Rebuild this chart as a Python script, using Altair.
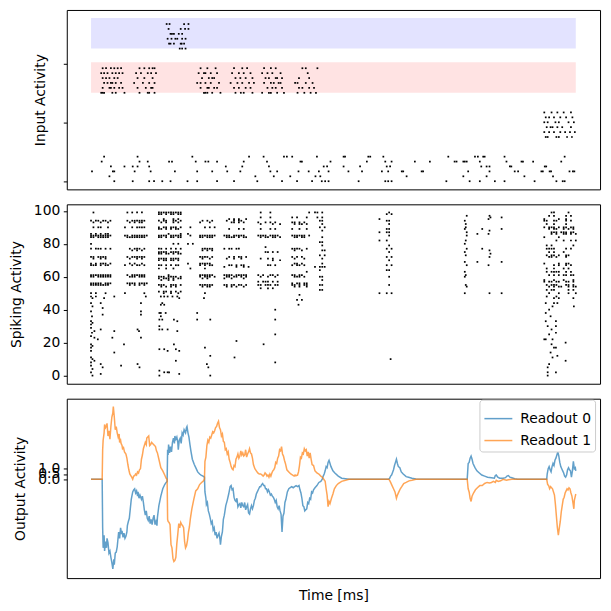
import altair as alt
import pandas as pd

T_END = 1000   # trial length (ms)
BIN = 5        # ms per character in the raster patterns

# ---------------- input spikes: row -> spike times (ms) ----------------
noise_rows = {
    5: [27, 96, 209, 326, 356, 398, 404, 415, 466, 521, 524, 572, 576, 603, 737, 792, 798, 809, 812, 853, 977],
    4: [22, 100, 117, 161, 167, 216, 236, 242, 260, 315, 363, 432, 435, 494, 569, 607, 620, 668, 699, 750,
        754, 768, 771, 775, 802, 857, 888, 891, 912, 970],
    3: [41, 69, 86, 96, 120, 278, 312, 367, 480, 487, 521, 555, 610, 617, 805, 816, 822, 864, 867, 936, 939],
    2: [2, 45, 48, 90, 123, 173, 219, 250, 281, 308, 370, 384, 428, 449, 470, 490, 531, 559, 600, 613, 641,
        644, 682, 685, 778, 822, 874, 881, 929, 932, 946, 949, 987, 994, 997],
    1: [38, 339, 377, 411, 463, 473, 651, 768, 816, 894, 953],
    0: [48, 86, 120, 130, 147, 164, 199, 219, 260, 295, 343, 394, 425, 456, 476, 483, 490, 552, 607, 613,
        620, 733, 781, 802, 833, 853, 915, 960, 973, 977],
}
probe_rows = {
    14: [935, 950, 962, 975, 990],
    13: [938, 945, 955, 968, 980, 993],
    12: [935, 942, 958, 965, 985, 996],
    11: [940, 948, 952, 962, 972, 990],
    10: [935, 945, 955, 968, 978, 988, 998],
    9: [938, 942, 960, 965, 982, 992],
}
cue_red_rows = {
    23: [24, 31, 41, 48, 55, 62, 100, 110, 120, 127, 131, 226, 240, 257, 295, 312, 322, 357, 371, 381, 436, 443, 467],
    22: [21, 27, 34, 44, 51, 58, 65, 93, 103, 117, 124, 134, 222, 233, 236, 247, 260, 291, 305, 315, 329,
         353, 364, 374, 391, 447],
    21: [24, 31, 38, 48, 55, 96, 110, 127, 229, 243, 250, 254, 298, 308, 319, 333, 360, 367, 381, 384, 394, 429, 450],
    20: [27, 34, 41, 44, 51, 62, 89, 107, 120, 131, 219, 226, 236, 247, 264, 288, 302, 312, 326, 336,
         357, 371, 377, 387, 391, 421, 426, 443, 457],
    19: [24, 38, 41, 48, 58, 65, 96, 113, 124, 127, 226, 240, 243, 254, 260, 295, 305, 319, 329,
         364, 374, 381, 394, 429, 436, 450, 460],
    18: [21, 24, 27, 44, 51, 69, 100, 117, 120, 131, 233, 236, 240, 250, 267, 298, 309, 315, 333,
         353, 367, 371, 384, 398, 426, 440, 453, 464],
}
cue_blue_rows = {
    32: [156, 162, 192, 201],
    31: [160, 185, 194, 201],
    30: [164, 167, 171, 181, 188],
    29: [158, 166, 174, 178, 188, 195],
    28: [161, 164, 171, 185, 187, 192],
    27: [183, 188, 195],
}
# shaded cue channels: (colour, lower row, upper row)
cue_bands = [("red", 18.0, 24.2), ("blue", 27.0, 33.2)]

# ---------------- recurrent spikes ----------------
# each burst: start time (ms), lines "neuron pattern" with one char per BIN ms
hidden_bursts = [
    (0, ["99 .x.......", "94 x.xx.xx.x", "93 .x..x..x.", "90 .x.xx..x.", "86 x.x.x.xx.",
         "85 xxxxxxxxx", "84 xx.xxxxx.", "80 x........", "77 x.xxx.x.x", "72 xx.xxxx..",
         "71 .x..x.x..", "68 x.x.xxx.x", "67 xxx.x.xx.", "61 xxxxxxxxx", "60 xx.xxxxxx",
         "56 xxxxx.xxx", "55 xxxxxxxx.", "50 x.x...x.."]),
    (70, ["99 .x.x.x.x..", "94 .x.xxxxxx.", "93 ..x.x.xx..", "90 x..x.xxxx.", "85 xx.xxxxxxx",
          "84 .xxxxxxxx.", "77 ..x.xxx.x.", "76 ...x.x.x..", "72 .x.xxxxxx.", "71 ..x..x.x..",
          "68 ..x.x..x..", "67 x..x.xx.x.", "61 .x.xxxxxx.", "60 ..xxx.xxx.", "56 .xxxx.xxxx",
          "55 ..x.x.x.x.", "50 x.......x."]),
    (140, ["99 xxxxxxxxxx", "98 xx.x.xx.xx", "95 ..x...x.x.", "94 x.xx..xx.x", "93 .x.x..x.x.",
           "90 x.xx.xxx.x", "89 xx.x.x.xx.", "86 ....x....x", "85 xxxx.xxxxx", "84 xx.x.xx.xx",
           "80 ......x.x.", "77 xx.x.x.x.x", "75 xxxx.xxxx.", "74 xx.xx.x.xx", "71 xxxx.xxxx.",
           "70 x.xx.xx.x.", "67 xx.x.x.xx.", "65 x..x..x...", "61 ....x.....", "60 xxx.xxxx.x",
           "59 x.xxx.x.xx", "58 .x..x.x...", "55 xxx..xxx.x", "54 .x.x.x.x..", "51 x.xx.x.x.x",
           "50 ..x..x..x."]),
    (200, ["94 ......x.x.x.", "93 .....x...x..", "90 .x.....x.x.x", "86 x...........", "85 .x...xxxxxxx",
           "84 .....xx.xxx.", "80 x.x.........", "77 ......xxxxx.", "76 ......x.x.x.", "72 .....xxxx.x.",
           "71 ......x..x..", "68 x....xxxxx..", "67 .....x.x.xx.", "65 .x.....x....", "61 .....xxxxxx.",
           "60 .....x.xxx.x", "59 ......x.x...", "55 .....xxxxxx.", "54 ......x.xx..", "50 .......x...."]),
    (275, ["95 ..x.x.x..x.", "94 .x..x.xx...", "93 ...xx.x.x..", "89 ..x...x.x..", "85 xxx.xxxxx..",
           "84 .xxxx.x.xx.", "77 x.xx.xx....", "72 ..x.x.xx.x.", "71 .x..x..x...", "67 ..xx.x.xx..",
           "66 x....x..x.x", "61 xxxx.xxxxx.", "60 .xx.xx.x.x.", "59 x..x....x..", "55 xx.xx.xx.x.",
           "54 .x.x.x..x.."]),
    (345, ["99 .x...x....", "96 .x...x....", "93 x..x.x.x..", "92 .x....x..x", "89 .x...x.x..",
           "85 xxxx.xxxx.", "84 .x.xx.xx.x", "78 ...x......", "75 ...xx.x.x.", "71 .x..x.x...",
           "70 ......x..x", "67 ....xx.x..", "61 x.x..xx.x.", "60 .x..x..x..", "57 x.xxx.x.x.",
           "55 xx.xxx.xx.", "53 .x..x.x..."]),
    (415, ["99 .......x", "96 x.x...x.", "93 xx.x.x..", "92 .x.xx.x.", "89 x..x..x.", "85 xxxxxx.x",
           "84 .xx.xx..", "77 xxxx..x.", "76 .x..x...", "72 x.x.x...", "71 .x...x..", "68 .xx.x...",
           "67 x.xx.x..", "63 ......x.", "61 xx.xx...", "60 .xxx.x..", "56 x.xx.xx.", "55 xx.x.xx.",
           "54 .x.x..x.", "49 ...x....", "46 ....x..."]),
    (462, ["99 xx.x.", "96 .x.x.", "94 ..xx.", "92 ...x.", "90 ..x.x", "88 ...x.", "84 ...x.",
           "81 ..xx.", "79 ...x.", "76 ...xx", "73 ..x.x", "71 ...x.", "68 ...x.", "66 x.xxx",
           "64 ..x..", "60 ..xx.", "58 ...x.", "55 ..xx.", "52 ..xx."]),
    (595, ["99 ....x.", "98 ...x.x", "95 x.....", "94 ...xx.", "92 ....x.", "89 ...xx.", "87 x..xx.",
           "85 ....x.", "82 x..x..", "79 ....x.", "77 ...x.x", "75 ....x.", "72 ...x.x", "70 ....x.",
           "67 ...x.x", "64 ...xx.", "60 ....x.", "55 ....x.", "50 x..x.x"]),
    (935, ["99 ...xx.....x...", "97 ..x.x....x.x..", "95 x.....x..x....", "94 xx..xx...x.x..",
           "92 .x..x....x....", "90 x.xxx.x.xx.xx.", "89 ..x.xx..x.x.x.", "87 ...xxx.xxx.xx.",
           "86 ...x.x..xx.x.x", "84 x.....x.......", "82 .....x..x..x.x", "79 .x.x........x.",
           "77 .xxxx....x.x..", "75 ..x.x...x.....", "73 .x.xx.x..xx...", "72 ..xx.x...x....",
           "68 x.....x..xx...", "67 ....x.x..x.x..", "65 .x..x...x.x...", "63 .x.xxxx..x.x..",
           "61 ..x.x.x.xx.xx.", "58 x...x...x...x.", "57 x.xx.xx..xx.x.", "55 .x.xxx...xx.x.",
           "54 ..x.x.xx..x.xx", "52 .x.xx.....x.x.", "50 ..x...x...x..x", "48 .x...x........",
           "47 ....x.x.....x."]),
]
# isolated spikes: (time ms, neuron)
hidden_scattered = [
    (0, 48), (3, 47), (10, 48), (27, 47), (48, 48), (0, 44), (3, 42), (20, 44), (24, 41), (0, 39),
    (24, 37), (2, 36), (0, 33), (0, 31), (3, 32), (0, 29), (7, 27), (20, 28), (48, 27), (2, 26),
    (0, 24), (7, 23), (14, 22), (44, 23), (0, 19), (0, 17), (3, 18), (0, 15), (48, 14), (0, 11),
    (3, 10), (7, 9), (0, 8), (0, 6), (20, 7), (24, 5), (3, 4), (0, 2), (20, 1), (3, 0),
    (113, 48), (103, 44), (103, 39), (103, 37), (96, 28), (99, 27), (103, 23), (68, 19), (62, 6),
    (96, 7), (100, 5),
    (144, 48), (151, 48), (158, 48), (168, 48), (178, 48), (182, 47), (144, 43), (151, 43), (147, 44),
    (141, 38), (144, 38), (154, 38), (144, 36), (141, 34), (147, 34), (171, 34), (178, 33), (141, 28),
    (147, 28), (158, 28), (178, 27), (141, 30), (171, 19), (141, 16), (151, 16), (158, 15), (175, 16),
    (182, 15), (175, 9), (141, 3), (151, 2), (158, 2), (161, 2), (182, 1), (141, 0),
    (233, 47), (219, 38), (219, 34), (246, 34), (235, 17), (246, 12), (239, 7), (242, 5), (246, 0),
    (300, 21), (296, 11), (380, 40), (380, 34), (380, 25), (356, 19), (380, 8), (425, 46), (428, 43),
    (618, 10),
    (775, 97), (771, 94), (773, 92), (773, 90), (771, 89), (775, 87), (775, 85), (773, 82), (771, 80),
    (775, 77), (771, 75), (773, 73), (771, 69), (775, 67), (771, 63), (773, 61), (771, 60), (773, 55),
    (775, 54), (771, 50), (797, 86), (797, 69), (807, 89), (807, 77), (822, 97), (824, 96), (820, 95),
    (822, 88), (820, 86), (822, 76), (824, 74), (822, 72), (820, 67), (822, 50), (847, 96), (847, 89),
    (847, 69), (847, 50),
    (938, 44), (955, 44), (962, 44), (952, 42), (996, 42), (938, 38), (945, 40), (948, 36), (938, 33),
    (959, 33), (942, 30), (959, 30), (950, 28), (945, 25), (959, 26), (935, 22), (938, 22), (952, 22),
    (979, 20), (950, 19), (955, 17), (959, 17), (948, 14), (962, 12), (952, 11), (979, 9), (945, 7),
    (942, 5), (942, 2), (959, 2), (942, 0),
]

# ---------------- readout traces: (time ms, value) ----------------
readout0 = [
    (0, 0), (23, 0), (24, -4.6), (25, -6.5), (27, -5.3), (28, -6.8), (30, -5.9), (32, -6.5), (33, -5.6),
    (35, -6.0), (37, -7.0), (39, -6.8), (41, -7.4), (43, -7.9), (45, -8.5), (47, -7.6), (48, -8.1),
    (50, -7.0), (52, -6.9), (54, -6.4), (57, -5.0), (59, -5.6), (61, -4.6), (63, -5.2), (64, -4.9),
    (66, -5.5), (68, -5.1), (70, -5.6), (72, -5.4), (74, -5.0), (75, -4.4), (77, -4.0), (79, -3.7),
    (81, -2.8), (83, -1.9), (86, -1.2), (88, -1.0), (90, -0.9), (92, -1.3), (94, -1.1), (96, -1.6),
    (97, -1.2), (99, -1.8), (101, -1.5), (104, -1.9), (106, -1.6), (108, -2.2), (110, -2.9), (112, -3.4),
    (114, -3.0), (116, -3.7), (118, -3.9), (120, -3.5), (122, -4.2), (124, -3.8), (126, -4.3),
    (128, -3.7), (130, -3.4), (132, -4.3), (134, -4.0), (136, -4.4), (137, -3.6), (140, -2.5),
    (144, -1.6), (148, -0.9), (152, -0.5), (155, -0.3), (157, -0.2), (158, 2.8), (159, 2.3), (160, 3.3),
    (162, 2.5), (164, 3.1), (166, 2.6), (168, 3.5), (170, 3.9), (172, 3.4), (173, 4.1), (175, 3.8),
    (177, 4.0), (179, 3.5), (180, 2.8), (182, 3.7), (184, 3.9), (186, 3.4), (188, 4.4), (190, 4.2),
    (192, 4.7), (195, 4.4), (197, 4.9), (198, 5.0), (200, 4.4), (202, 4.0), (204, 3.3), (206, 2.7),
    (209, 1.9), (213, 1.4), (216, 1.1), (220, 0.7), (224, 0.5), (227, 0.4), (231, 0.3), (234, 0.2),
    (235, -1.2), (237, -1.8), (238, -2.4), (240, -2.2), (242, -3.0), (244, -3.3), (246, -3.7),
    (248, -4.2), (250, -4.0), (252, -4.8), (254, -4.6), (256, -5.3), (258, -5.0), (260, -5.6),
    (262, -5.3), (264, -5.1), (266, -5.7), (267, -6.2), (269, -5.4), (271, -5.0), (273, -3.8),
    (275, -3.4), (278, -2.5), (281, -2.0), (284, -1.4), (287, -0.7), (289, -0.6), (291, -1.0),
    (293, -0.9), (295, -1.7), (297, -2.0), (299, -2.1), (301, -1.8), (303, -2.6), (305, -2.4),
    (307, -2.3), (309, -2.7), (311, -2.2), (313, -2.5), (315, -2.6), (317, -2.2), (319, -2.9),
    (321, -2.6), (323, -2.4), (325, -3.2), (327, -3.3), (329, -2.8), (331, -2.5), (333, -2.8),
    (335, -2.5), (337, -2.0), (339, -1.8), (341, -1.4), (343, -1.2), (346, -0.9), (348, -0.7),
    (350, -0.7), (352, -0.5), (354, -0.4), (356, -0.6), (358, -0.6), (360, -0.9), (362, -0.9),
    (364, -1.2), (366, -1.0), (368, -1.2), (370, -1.5), (372, -1.4), (374, -1.6), (376, -1.7),
    (378, -1.9), (380, -2.2), (382, -2.0), (384, -2.6), (386, -2.8), (388, -2.5), (390, -3.0),
    (392, -3.3), (394, -5.0), (396, -3.5), (398, -3.2), (400, -2.2), (402, -1.9), (405, -1.2),
    (408, -0.9), (411, -0.8), (414, -0.7), (417, -0.8), (420, -0.7), (423, -0.6), (426, -0.7),
    (429, -0.6), (431, -1.0), (433, -1.3), (435, -1.8), (437, -2.5), (439, -2.6), (441, -3.0),
    (443, -2.9), (445, -2.8), (447, -2.2), (449, -2.3), (451, -1.8), (453, -1.9), (455, -1.2),
    (457, -1.3), (459, -1.0), (462, -0.8), (466, -0.6), (470, -0.3), (474, -0.2), (477, 0.0),
    (479, 0.3), (481, 0.5), (483, 0.8), (485, 1.2), (487, 1.1), (489, 1.6), (491, 1.8), (493, 1.5),
    (495, 1.2), (499, 0.8), (503, 0.6), (510, 0.3), (517, 0.1), (525, 0.05), (532, 0.0), (614, 0.0),
    (616, 0.1), (618, 0.3), (620, 0.4), (622, 0.65), (624, 0.9), (626, 1.3), (628, 1.6), (630, 1.9),
    (632, 1.5), (634, 1.2), (637, 1.1), (640, 0.7), (644, 0.5), (650, 0.25), (655, 0.2), (662, 0.1),
    (670, 0.02), (776, 0.0), (778, 1.5), (780, 1.6), (782, 2.0), (784, 2.2), (786, 1.9), (788, 1.5),
    (792, 1.1), (796, 0.8), (801, 0.6), (806, 0.4), (812, 0.3), (818, 0.2), (826, 0.15), (832, 0.1),
    (834, 0.35), (836, 0.4), (839, 0.2), (843, 0.1), (850, 0.1), (855, 0.15), (858, 0.3), (861, 0.35),
    (864, 0.2), (868, 0.15), (874, 0.05), (880, 0.0), (940, 0.0), (941, 0.5), (943, 1.0), (945, 1.2),
    (947, 0.9), (949, 0.7), (951, 1.2), (953, 1.5), (955, 1.3), (957, 1.8), (959, 2.0), (961, 2.3),
    (963, 2.6), (965, 2.2), (967, 1.6), (969, 1.2), (971, 1.0), (973, 0.8), (975, 0.6), (977, 0.3),
    (979, 0.2), (981, 0.4), (983, 0.9), (985, 1.1), (987, 0.9), (989, 0.8), (991, 0.2), (993, 0.8),
    (995, 1.7), (997, 1.0), (999, 1.1), (1000, 0.8),
]
readout1 = [
    (0, 0), (23, 0), (24, 2.8), (25, 3.7), (27, 4.4), (28, 5.2), (30, 4.9), (32, 5.1), (33, 5.3),
    (35, 4.1), (37, 4.6), (39, 3.8), (41, 5.0), (43, 5.9), (45, 6.3), (46, 6.9), (48, 5.9), (50, 4.7),
    (52, 5.0), (54, 4.4), (56, 4.0), (58, 4.3), (59, 3.5), (61, 3.7), (62, 3.4), (64, 3.2), (65, 2.9),
    (67, 3.0), (69, 2.6), (72, 2.4), (74, 2.0), (76, 1.4), (78, 0.9), (80, 0.5), (82, 0.35), (84, 0.2),
    (86, 0.0), (88, 0.3), (90, 0.35), (92, 0.5), (94, 0.4), (96, 0.7), (98, 0.6), (100, 0.9), (102, 1.0),
    (104, 1.9), (106, 2.3), (108, 2.9), (110, 3.2), (112, 3.5), (114, 3.3), (115, 3.9), (117, 4.0),
    (119, 4.1), (121, 3.2), (123, 3.3), (125, 3.5), (127, 3.4), (129, 3.3), (131, 3.2), (133, 3.1),
    (135, 2.7), (137, 2.5), (140, 1.9), (144, 1.1), (148, 0.8), (152, 0.4), (155, 0.1), (157, 0.0),
    (158, -3.8), (159, -4.0), (161, -4.1), (163, -4.3), (165, -6.2), (167, -6.5), (169, -7.5),
    (171, -7.8), (173, -7.7), (175, -7.4), (177, -6.1), (179, -5.2), (181, -4.2), (183, -4.6),
    (185, -4.1), (187, -4.3), (189, -4.4), (191, -4.6), (193, -5.9), (195, -6.5), (197, -6.3),
    (199, -5.8), (201, -5.0), (203, -4.5), (205, -3.7), (208, -2.8), (212, -1.9), (216, -1.1),
    (220, -0.9), (224, -0.5), (228, -0.3), (231, -0.2), (234, 0.0), (235, 1.7), (237, 2.1), (239, 3.2),
    (241, 3.7), (243, 3.5), (245, 4.0), (247, 3.9), (249, 4.2), (251, 4.5), (253, 4.4), (255, 4.6),
    (257, 4.9), (259, 5.0), (261, 5.3), (263, 5.5), (265, 4.9), (267, 4.7), (269, 4.1), (271, 4.3),
    (273, 3.6), (275, 3.5), (277, 2.8), (279, 2.9), (281, 2.4), (283, 2.6), (285, 1.9), (287, 1.6),
    (289, 1.2), (291, 1.0), (293, 0.9), (295, 1.3), (297, 1.2), (299, 1.9), (301, 2.1), (303, 2.4),
    (305, 2.0), (307, 2.2), (309, 2.7), (311, 2.3), (313, 2.5), (315, 2.2), (317, 2.3), (319, 2.8),
    (321, 2.1), (323, 2.4), (325, 2.6), (327, 2.9), (329, 2.5), (331, 2.4), (333, 2.0), (335, 1.4),
    (338, 1.0), (341, 0.8), (344, 0.6), (347, 0.5), (350, 0.5), (353, 0.4), (355, 0.3), (357, 0.4),
    (359, 0.6), (361, 0.5), (363, 0.3), (365, 0.4), (367, 0.2), (369, 0.5), (371, 0.3), (373, 0.6),
    (375, 0.8), (377, 0.9), (379, 1.1), (381, 1.6), (383, 1.5), (385, 2.0), (387, 2.2), (389, 2.8),
    (391, 2.7), (393, 3.1), (395, 2.4), (397, 2.2), (399, 1.8), (401, 1.5), (404, 0.9), (408, 0.7),
    (412, 0.5), (416, 0.4), (419, 0.3), (421, 0.4), (423, 0.35), (426, 0.4), (428, 0.7), (430, 1.3),
    (432, 2.1), (434, 2.0), (436, 2.5), (438, 2.4), (440, 2.9), (442, 2.7), (444, 2.8), (446, 2.2),
    (448, 2.6), (450, 2.0), (452, 2.5), (454, 1.9), (456, 1.4), (459, 1.3), (462, 0.8), (466, 0.6),
    (470, 0.5), (474, 0.3), (477, 0.2), (480, 0.0), (483, -0.2), (485, -0.9), (487, -1.5), (489, -2.6),
    (491, -2.1), (493, -2.3), (496, -1.8), (499, -1.4), (502, -0.9), (506, -0.6), (510, -0.4),
    (517, -0.2), (525, -0.1), (532, 0.0), (614, 0.0), (616, -0.1), (618, -0.3), (621, -0.6), (624, -0.9),
    (627, -1.2), (630, -1.8), (632, -1.5), (635, -1.2), (638, -0.9), (641, -0.7), (645, -0.4),
    (650, -0.3), (656, -0.15), (662, -0.1), (670, 0.0), (776, 0.0), (778, -0.9), (780, -1.2),
    (782, -1.8), (784, -2.1), (786, -1.6), (789, -1.3), (793, -1.0), (797, -0.8), (802, -0.6),
    (807, -0.6), (812, -0.4), (817, -0.3), (822, -0.35), (826, -0.3), (830, -0.2), (834, -0.3),
    (836, -0.1), (840, -0.2), (845, -0.15), (850, 0.0), (857, -0.1), (861, -0.05), (868, 0.0),
    (940, 0.0), (942, -0.5), (944, -0.6), (946, -0.9), (948, -0.7), (950, -0.8), (952, -0.9),
    (954, -1.2), (956, -1.5), (958, -2.4), (960, -3.5), (962, -4.6), (964, -5.3), (966, -4.6),
    (968, -4.0), (970, -3.1), (972, -2.5), (974, -1.9), (976, -1.7), (978, -1.3), (980, -1.1),
    (982, -0.9), (984, -1.0), (986, -0.8), (988, -0.9), (990, -1.3), (992, -1.6), (994, -2.2),
    (996, -2.8), (997, -2.0), (999, -1.6), (1000, -1.4),
]
readout_names = ["Readout 0", "Readout 1"]
readout_colors = ["#1f77b4", "#ff7f0e"]

# ---------------- tables ----------------
inp_records = []
for group in (noise_rows, probe_rows, cue_red_rows, cue_blue_rows):
    for row, times in group.items():
        inp_records += [{"t": t, "row": row} for t in times]
inp_df = pd.DataFrame(inp_records)
band_df = pd.DataFrame([{"c": c, "lo": lo, "hi": hi, "t0": 0, "t1": T_END} for c, lo, hi in cue_bands])

hid_records = []
for start, lines in hidden_bursts:
    for line in lines:
        neuron, pattern = line.split()
        hid_records += [{"t": start + BIN * i, "neuron": int(neuron)}
                        for i, ch in enumerate(pattern) if ch == "x"]
hid_records += [{"t": t, "neuron": n} for t, n in hidden_scattered]
hid_df = pd.DataFrame(hid_records)

ro_records = []
for name, trace in zip(readout_names, (readout0, readout1)):
    ro_records += [{"t": t, "v": v, "series": name} for t, v in trace]
ro_df = pd.DataFrame(ro_records)

# ---------------- chart ----------------
W, H = 535, 180
FONT = "DejaVu Sans"
FS = 13.9
x_scale = alt.Scale(domain=[-50, 1050], nice=False, zero=False)

top_y = alt.Scale(domain=[-1.66, 34.86], nice=False, zero=False)
top_axis = alt.Axis(values=[0, 12, 24], labels=False, title="Input Activity", titlePadding=15)
bands = alt.Chart(band_df).mark_rect(opacity=0.11).encode(
    x=alt.X("t0:Q", scale=x_scale, axis=None), x2="t1:Q",
    y=alt.Y("lo:Q", scale=top_y, axis=top_axis), y2="hi:Q",
    color=alt.Color("c:N", scale=None),
)
inp_dots = alt.Chart(inp_df).mark_square(size=3, color="black", opacity=1).encode(
    x=alt.X("t:Q", scale=x_scale, axis=None),
    y=alt.Y("row:Q", scale=top_y, axis=top_axis),
)
top = alt.layer(bands, inp_dots).properties(width=W, height=H)

mid = alt.Chart(hid_df).mark_square(size=3, color="black", opacity=1).encode(
    x=alt.X("t:Q", scale=x_scale, axis=None),
    y=alt.Y("neuron:Q", scale=alt.Scale(domain=[-4.95, 103.95], nice=False, zero=False),
            axis=alt.Axis(values=[0, 20, 40, 60, 80, 100], title="Spiking Activity", titlePadding=10)),
).properties(width=W, height=H)

bottom = alt.Chart(ro_df).mark_line(strokeWidth=1.5, opacity=0.7).encode(
    x=alt.X("t:Q", scale=x_scale,
            axis=alt.Axis(title="Time [ms]", labels=False, ticks=False, titlePadding=10)),
    y=alt.Y("v:Q", scale=alt.Scale(domain=[-9.37, 7.64], nice=False, zero=False),
            axis=alt.Axis(values=[0, 0.5, 1.0], format=".1f", labelOverlap=False,
                          title="Output Activity", titlePadding=10)),
    color=alt.Color("series:N",
                    scale=alt.Scale(domain=readout_names, range=readout_colors),
                    legend=alt.Legend(title=None, orient="none", legendX=414, legendY=1,
                                      symbolType="stroke", symbolSize=784, symbolStrokeWidth=1.5,
                                      labelFont=FONT, labelFontSize=FS,
                                      labelColor="black", labelOffset=7, padding=4,
                                      strokeColor="#cccccc", fillColor="white", cornerRadius=3,
                                      rowPadding=0)),
).properties(width=W, height=H)

chart = (
    alt.vconcat(top, mid, bottom, spacing=13)
    .resolve_scale(y="independent", color="independent")
    .resolve_legend(color="independent")
    .properties(padding={"left": 8, "right": 10, "top": 8, "bottom": 4}, background="white")
    .configure_view(stroke="black", strokeWidth=1)
    .configure_axis(grid=False, domain=False, labelFont=FONT, titleFont=FONT, labelFontSize=FS,
                    titleFontSize=FS, titleFontWeight="normal", labelColor="black",
                    titleColor="black", tickColor="black", tickSize=3.5, tickWidth=1,
                    labelPadding=3.5)
)

chart.save("out.html", embed_options={"renderer": "svg", "actions": False})
